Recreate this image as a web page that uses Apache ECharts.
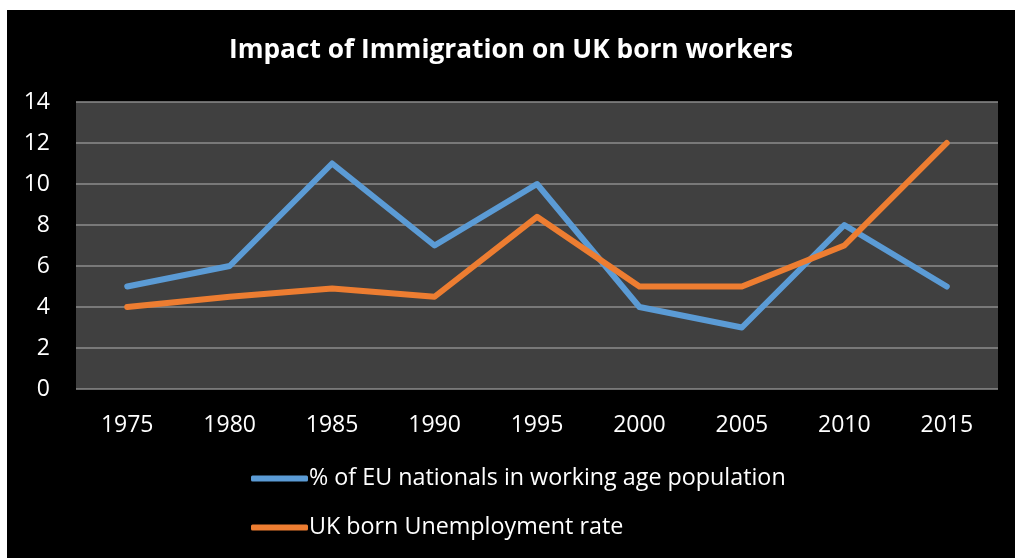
<!DOCTYPE html>
<html>
<head>
<meta charset="utf-8">
<script src="https://cdn.jsdelivr.net/npm/echarts@6/dist/echarts.min.js"></script>
<style>
  html, body { margin: 0; padding: 0; background: #fff; }
  #chart { position: absolute; left: 7px; top: 10px; width: 1008px; height: 548px; background: #000; }
</style>
</head>
<body>
<div id="chart"></div>
<script>
// data
var years = ['1975', '1980', '1985', '1990', '1995', '2000', '2005', '2010', '2015'];
var euNationals = [5, 6, 11, 7, 10, 4, 3, 8, 5];
var ukUnemployment = [4, 4.5, 4.9, 4.5, 8.4, 5, 5, 7, 12];
var seriesNames = ['% of EU nationals in working age population', 'UK born Unemployment rate'];

var font = '"Open Sans", sans-serif';
var chart = echarts.init(document.getElementById('chart'));

var option = {
    backgroundColor: '#000',
    animation: false,
    title: {
        text: 'Impact of Immigration on UK born workers',
        left: 'center',
        top: 23,
        padding: [5, 0, 5, 11],
        textStyle: { color: '#fff', fontSize: 26.3, fontWeight: 'bold', fontFamily: font }
    },
    legend: {
        orient: 'vertical',
        left: 239,
        top: 452,
        itemWidth: 57,
        itemHeight: 6,
        itemGap: 26,
        icon: 'roundRect',
        textStyle: { color: '#fff', fontSize: 23.3, fontFamily: font, padding: [0, 0, 0, -4] },
        data: seriesNames
    },
    grid: {
        left: 69,
        right: 17,
        top: 92,
        bottom: 169,
        show: true,
        backgroundColor: '#404040',
        borderWidth: 0
    },
    xAxis: {
        type: 'category',
        data: years,
        boundaryGap: true,
        axisLine: { show: false },
        axisTick: { show: false },
        axisLabel: { color: '#fff', fontSize: 23, fontFamily: font, margin: 25 }
    },
    yAxis: {
        type: 'value',
        min: 0,
        max: 14,
        interval: 2,
        axisLine: { show: false },
        axisTick: { show: false },
        splitLine: { lineStyle: { color: '#8c8c8c', width: 1.5 } },
        axisLabel: { color: '#fff', fontSize: 23, fontFamily: font, margin: 26 }
    },
    series: [
        {
            name: seriesNames[0],
            type: 'line',
            data: euNationals,
            symbol: 'none',
            color: '#5b9bd5',
            lineStyle: { width: 6, cap: 'round', join: 'round' }
        },
        {
            name: seriesNames[1],
            type: 'line',
            data: ukUnemployment,
            symbol: 'none',
            color: '#ed7d31',
            lineStyle: { width: 6, cap: 'round', join: 'round' }
        }
    ]
};

chart.setOption(option);
</script>
</body>
</html>
